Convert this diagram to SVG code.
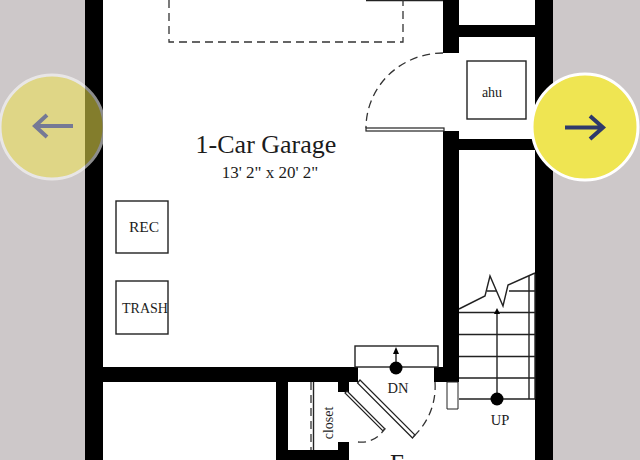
<svg xmlns="http://www.w3.org/2000/svg" width="640" height="460" viewBox="0 0 640 460">
<style>
text{font-family:"Liberation Serif",serif;fill:#1c1c1c;text-anchor:middle}
.w{fill:#000}
.t{fill:none;stroke:#222;stroke-width:1.4}
.b{fill:#fff;stroke:#222;stroke-width:1.2}
.d{fill:none;stroke:#333;stroke-width:1.3;stroke-dasharray:8 5}
.a{fill:none;stroke-width:4}
</style>
<rect width="640" height="460" fill="#cdc8c9"/>
<rect x="85" width="468" height="460" fill="#fff"/>
<g id="walls">
<rect class="w" x="85" y="0" width="18" height="460"/>
<rect class="w" x="535" y="0" width="18" height="460"/>
<rect class="w" x="443" y="0" width="16" height="53"/>
<rect class="w" x="443" y="131" width="16" height="251"/>
<rect class="w" x="459" y="25" width="76" height="12"/>
<rect class="w" x="459" y="139" width="76" height="11"/>
<rect class="w" x="85" y="367" width="273" height="15"/>
<rect class="w" x="434" y="367" width="25" height="15"/>
<rect class="w" x="276" y="382" width="12" height="78"/>
<rect class="w" x="276" y="450" width="73" height="10"/>
<rect class="w" x="338" y="382" width="11" height="10"/>
<rect class="w" x="338" y="442" width="11" height="18"/>
</g>
<g id="garage">
<path class="t" d="M366 0.500H443"/>
<path class="d" d="M169 0V42H403V0"/>
<text x="266" y="153" font-size="26">1-Car Garage</text>
<text x="270" y="178" font-size="17">13' 2" x 20' 2"</text>
</g>
<g id="garage-door">
<path class="d" d="M443 53A77 75 0 0 0 366 128"/>
<rect class="b" x="366" y="128" width="78" height="3"/>
</g>
<g id="ahu">
<rect class="t" x="467" y="61" width="59" height="58"/>
<text x="492" y="97" font-size="14">ahu</text>
</g>
<g id="rec">
<rect class="t" x="116" y="201" width="52" height="52"/>
<text x="144" y="232" font-size="15.500">REC</text>
</g>
<g id="trash">
<rect class="t" x="116" y="281" width="52" height="53"/>
<text x="145" y="313" font-size="14">TRASH</text>
</g>
<g id="stairs-down">
<rect class="t" x="355" y="346" width="83" height="21"/>
<circle class="w" cx="396" cy="368" r="6.500"/>
<path class="t" d="M396 362V352"/>
<path class="w" d="M396 347L399 354H393Z"/>
<text x="398" y="393" font-size="14.500">DN</text>
</g>
<g id="stairs-up">
<path class="t" d="M459 312.500H535M459 334.500H535M459 356.500H535M459 378H535M459 399H535M487 291H497M509 291H535"/>
<path class="t" d="M459 309L485 296L490 276L503 306L508 285L535 273"/>
<path class="t" d="M529 276V399M535 274V399"/>
<path fill="#fff" stroke="#222" stroke-width="1" d="M447 382H458V409H447Z"/>
<path class="t" d="M497 393V313"/>
<path class="w" d="M497 308L500 314H494Z"/>
<circle class="w" cx="497" cy="399" r="6.500"/>
<text x="500" y="425" font-size="14.500">UP</text>
</g>
<g id="closet">
<path class="d" d="M311 382V450"/>
<path class="t" d="M313.500 382V450"/>
<text x="0" y="0" font-size="14" transform="translate(333 423) rotate(-90)">closet</text>
<path class="b" d="M360 380L415 435L412.500 438L357.500 383Z"/>
<path class="b" d="M347 391L385 429L383 431L345 393Z"/>
<path class="d" d="M358 442A27 27 0 0 0 385 428"/>
<path class="d" d="M435 382A68 68 0 0 1 413 437"/>
</g>
<text x="390" y="472" font-size="25" style="text-anchor:start">Foyer</text>
<g id="prev" opacity="0.55">
<circle cx="52" cy="127" r="52" fill="#eee350" stroke="#fff" stroke-width="3"/>
<path class="a" stroke="#2f3a6b" d="M73 126H35M47 115L35 126L47 137"/>
</g>
<g id="next">
<circle cx="585" cy="127" r="53" fill="#efe552" stroke="#fff" stroke-width="3"/>
<path class="a" stroke="#2f3a6b" d="M565 127.500H603M590 116L603 127.500L590 139"/>
</g>
</svg>
